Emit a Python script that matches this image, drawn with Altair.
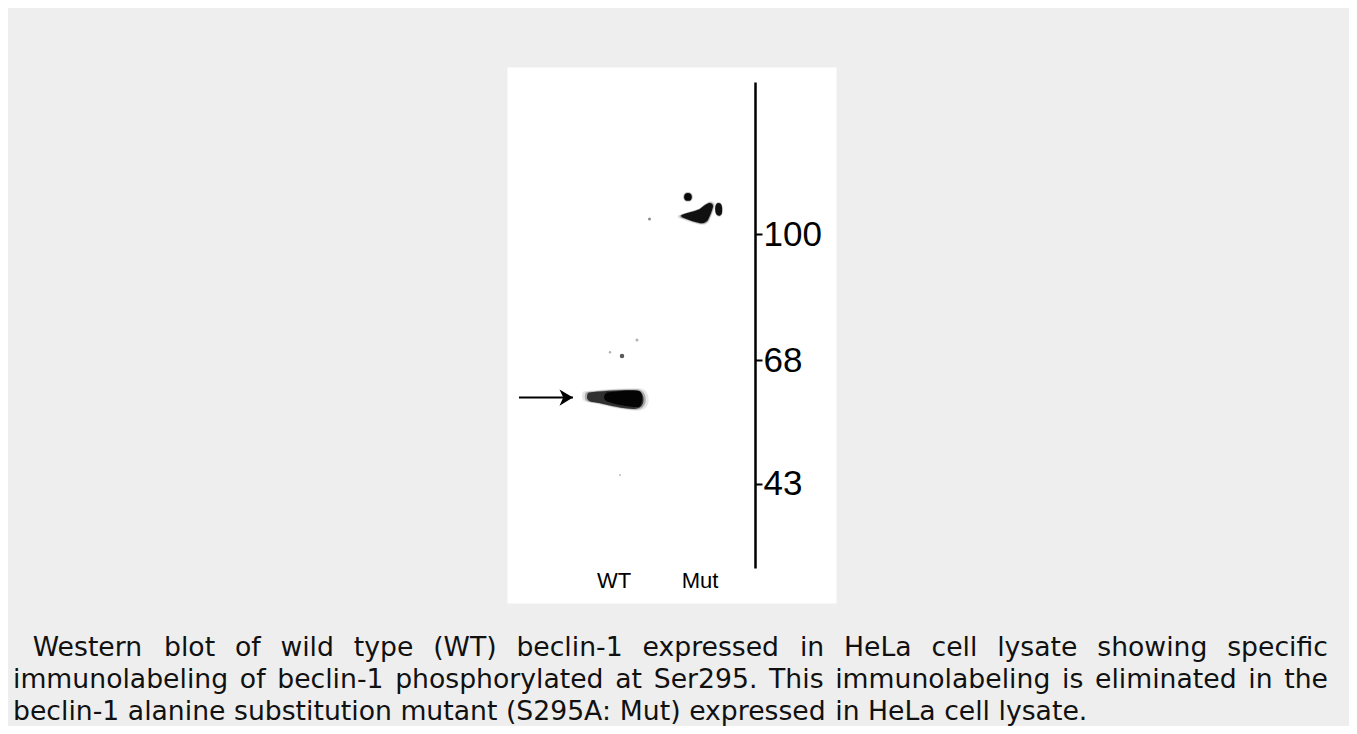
import altair as alt
import pandas as pd

# ---------------- values ----------------
LANE_NAMES = ["WT", "Mut"]
LANE_POS = [1, 2]

MARKER_KDA = [100, 68, 43]                # labelled size markers
LADDER_KDA = [138.6, 100, 68, 43, 25.9]   # ladder line: top end, markers, bottom end

ARROW_KDA = [60.4]
ARROW_FROM = [-0.105]
ARROW_TO = [0.523]

WT_BAND_LANE = [1.012]
WT_BAND_KDA = [60.0]

MUT_BLOB_LANE = [2.017]
MUT_BLOB_KDA = [105.3]
MUT_BAR_LANE = [2.215]
MUT_BAR_KDA = [106.2]
MUT_DOT_LANE = [1.860]
MUT_DOT_KDA = [109.4]

SPECK_LANE = [1.413, 1.267, 0.953, 1.093, 1.07]
SPECK_KDA = [103.8, 73.1, 70.0, 69.0, 44.7]
SPECK_DIAM = [3.0, 3.0, 2.5, 4.5, 2.0]
SPECK_SHADE = [0.45, 0.30, 0.30, 0.65, 0.25]

CAPTION = [
    " Western blot of wild type (WT) beclin-1 expressed in HeLa cell lysate showing specific",
    "immunolabeling of beclin-1 phosphorylated at Ser295. This immunolabeling is eliminated in the",
    "beclin-1 alanine substitution mutant (S295A: Mut) expressed in HeLa cell lysate.",
]
CAPTION_JUSTIFY = [True, True, False]

# ---------------- layout / style ----------------
PANEL_W, PANEL_H = 329, 536
PAD_L, PAD_T = 499, 59
TOTAL_W, TOTAL_H = 1341, 718
X_RANGE = [107, 193]                     # lane centres, px from panel left
Y_RANGE = [15, 167, 293, 416.5, 501]     # ladder positions, px from panel top
BG = "#eeeeee"

CAP_FONT = "DejaVu Sans"
CAP_SIZE = 26.67
CAP_LEFT, CAP_RIGHT = 13 - 8, 1328 - 8
CAP_BASE = [656 - 8, 688 - 8, 720 - 8]

# DejaVu Sans advance widths (font units / 2048)
DV = {" ": 651, "(": 799, ")": 799, "-": 739, ".": 651, ":": 690,
      "1": 1303, "2": 1303, "5": 1303, "9": 1303,
      "A": 1401, "H": 1540, "L": 1141, "M": 1767, "S": 1300, "T": 1251, "W": 2025,
      "a": 1255, "b": 1300, "c": 1126, "d": 1300, "e": 1260, "f": 721, "g": 1300,
      "h": 1298, "i": 569, "l": 569, "m": 1995, "n": 1298, "o": 1253, "p": 1300,
      "r": 842, "s": 1067, "t": 803, "u": 1298, "w": 1675, "x": 1212, "y": 1212}


def tw(s):
    return sum(DV.get(c, 1250) for c in s) / 2048 * CAP_SIZE


def path(points_cmd, half):
    out = []
    for tok in points_cmd.split():
        if "," in tok:
            a, b = tok.split(",")
            out.append(f"{float(a) / half:.3f},{float(b) / half:.3f}")
        else:
            out.append(tok)
    return " ".join(out)


WT_BODY = path("M -26,-7 C -15,-8.5 5,-9.8 20,-9.6 C 26,-9.5 28.5,-5 28.5,0 "
               "C 28.5,6 25,9.5 19,9.5 C 8,9.3 -5,6 -16,3.5 C -22,2.5 -27.5,2.5 -28,-1.5 "
               "C -28.2,-4.5 -27.5,-6.8 -26,-7 Z", 28)
WT_CORE = path("M -8,-7 C 5,-9 20,-9 25,-8 C 28,-6 28,5 24,7.5 C 15,8 0,5 -8,2 "
               "C -12,0 -12,-5 -8,-7 Z", 28)
MUT_BODY = path("M -20,2 C -15,-0.5 -8,-1.5 -2,-4 C 1,-6 4,-9 7,-10 C 10,-10.5 12,-9 11.5,-6 "
                "C 10.5,-2 8.5,3 6.5,7 C 5,9.5 2,10.5 -1,10 C -6,9 -12,7 -17,5 "
                "C -20,4.5 -21,3 -20,2 Z", 21)
MUT_BAR = path("M 0,-6.5 C 3.5,-6.5 4,-2 3.5,3 C 3,7 -1,7 -2.5,4 C -4,0 -3.5,-6.5 0,-6.5 Z", 7)
ARROW_HEAD = "M 0,0 L -1,-0.6 L -0.72,0 L -1,0.6 Z"

# ---------------- tables ----------------
lanes_df = pd.DataFrame({"lane": LANE_POS, "name": LANE_NAMES})
arrow_df = pd.DataFrame({"x1": ARROW_FROM, "x2": ARROW_TO, "kda": ARROW_KDA})
wt_df = pd.DataFrame({"lane": WT_BAND_LANE, "kda": WT_BAND_KDA})
mut_df = pd.DataFrame({"lane": MUT_BLOB_LANE, "kda": MUT_BLOB_KDA})
bar_df = pd.DataFrame({"lane": MUT_BAR_LANE, "kda": MUT_BAR_KDA})
dot_df = pd.DataFrame({"lane": MUT_DOT_LANE, "kda": MUT_DOT_KDA})
speck_df = pd.DataFrame({"lane": SPECK_LANE, "kda": SPECK_KDA,
                         "area": [d * d for d in SPECK_DIAM], "shade": SPECK_SHADE})
marker_df = pd.DataFrame({"kda": MARKER_KDA})

words = []
for i, line in enumerate(CAPTION):
    toks = line.split(" ")
    lead = line.startswith(" ")
    toks = [t for t in toks if t]
    if CAPTION_JUSTIFY[i]:
        ngaps = len(toks) - 1 + (1 if lead else 0)
        gap = (CAP_RIGHT - CAP_LEFT - sum(tw(t) for t in toks)) / ngaps
    else:
        gap = tw(" ")
    x = CAP_LEFT + (gap if lead else 0)
    for t in toks:
        words.append({"w": t, "cx": x, "cy": CAP_BASE[i]})
        x += tw(t) + gap
words_df = pd.DataFrame(words)

# ---------------- scales ----------------
x_scale = alt.Scale(domain=LANE_POS, range=X_RANGE, zero=False, nice=False)
y_scale = alt.Scale(domain=LADDER_KDA, range=Y_RANGE, zero=False, nice=False)
y_axis = alt.Axis(orient="right", offset=-81, values=MARKER_KDA, title=None, grid=False,
                  domainColor="black", domainWidth=2.5, tickColor="black", tickWidth=2,
                  tickSize=7, labelFont="Liberation Sans", labelFontSize=35,
                  labelColor="black", labelPadding=1)


def X(f):
    return alt.X(f"{f}:Q", scale=x_scale, axis=None)


def Y(f="kda"):
    return alt.Y(f"{f}:Q", scale=y_scale, axis=y_axis)


def blob(df, shape, half, color="black", halo=True, core_opacity=0.88):
    layers = []
    if halo:
        for k, op in [(1.18, 0.10), (1.08, 0.28)]:
            layers.append(alt.Chart(df).mark_point(shape=shape, size=(2 * half * k) ** 2,
                                                   filled=True, color=color, opacity=op,
                                                   strokeWidth=0)
                          .encode(x=X("lane"), y=Y()))
    layers.append(alt.Chart(df).mark_point(shape=shape, size=(2 * half) ** 2, filled=True,
                                           color=color, opacity=core_opacity, strokeWidth=0)
                  .encode(x=X("lane"), y=Y()))
    return layers


ladder = alt.Chart(marker_df).mark_point(opacity=0, size=1).encode(x=alt.value(0), y=Y())

arrow_line = alt.Chart(arrow_df).mark_rule(color="black", strokeWidth=2).encode(
    x=X("x1"), x2="x2:Q", y=Y())
arrow_head = alt.Chart(arrow_df).mark_point(shape=ARROW_HEAD, size=729, filled=True,
                                            color="black", opacity=1, strokeWidth=0).encode(
    x=X("x2"), y=Y())

wt_layers = blob(wt_df, WT_BODY, 28, color="#111111", core_opacity=0.8)
wt_layers += blob(wt_df, WT_CORE, 28, color="black", halo=False, core_opacity=0.9)
mut_layers = blob(mut_df, MUT_BODY, 21, core_opacity=0.9)
mut_layers += blob(bar_df, MUT_BAR, 7, core_opacity=0.9)
dot = alt.Chart(dot_df).mark_circle(size=60, color="black", opacity=0.95).encode(
    x=X("lane"), y=Y())
dot_halo = alt.Chart(dot_df).mark_circle(size=95, color="black", opacity=0.25).encode(
    x=X("lane"), y=Y())

specks = alt.Chart(speck_df).mark_circle(color="black").encode(
    x=X("lane"), y=Y(),
    size=alt.Size("area:Q", scale=None, legend=None),
    opacity=alt.Opacity("shade:Q", scale=None, legend=None))

lane_labels = alt.Chart(lanes_df).mark_text(
    font="Liberation Sans", fontSize=22, color="black", align="center",
    baseline="alphabetic").encode(x=X("lane"), y=alt.value(588 - 67), text="name:N")

blot = alt.layer(ladder, arrow_line, arrow_head, *wt_layers, *mut_layers, dot_halo, dot,
                 specks, lane_labels)

caption = alt.Chart(words_df).mark_text(
    font=CAP_FONT, fontSize=CAP_SIZE, color="#111111", align="left",
    baseline="alphabetic").encode(
    x=alt.X("cx:Q", scale=alt.Scale(domain=[0, TOTAL_W], range=[-PAD_L, TOTAL_W - PAD_L],
                                    zero=False, nice=False), axis=None),
    y=alt.Y("cy:Q", scale=alt.Scale(domain=[0, TOTAL_H], range=[-PAD_T, TOTAL_H - PAD_T],
                                    zero=False, nice=False), axis=None),
    text="w:N")

chart = alt.layer(blot, caption).resolve_scale(x="independent", y="independent").properties(
    width=PANEL_W, height=PANEL_H, autosize="none", background=BG,
    padding={"left": PAD_L, "top": PAD_T,
             "right": TOTAL_W - PAD_L - PANEL_W, "bottom": TOTAL_H - PAD_T - PANEL_H},
).configure_view(fill="white", stroke="transparent")

chart.save("out.html", embed_options={"renderer": "svg", "actions": False})
